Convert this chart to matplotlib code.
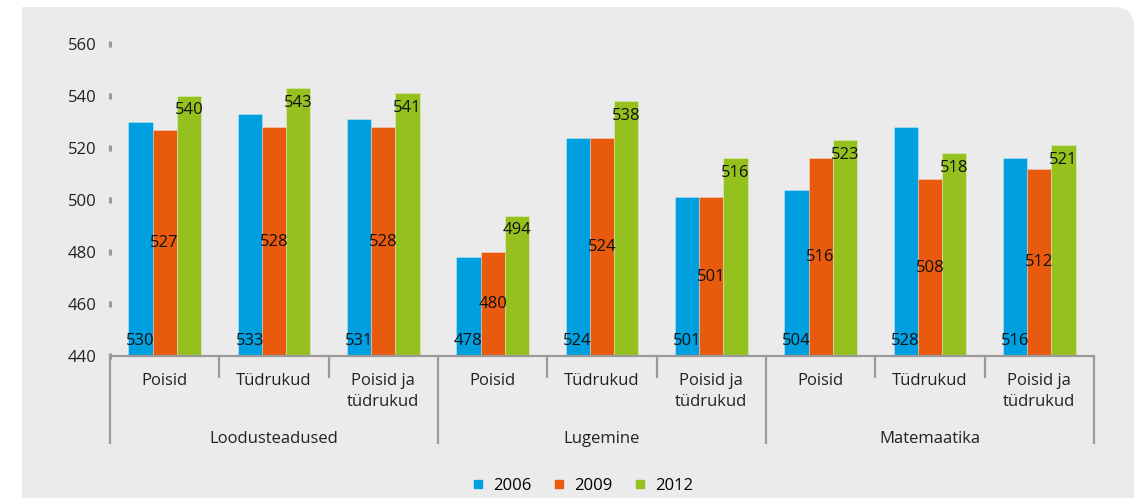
import matplotlib
matplotlib.use("Agg")
import matplotlib.pyplot as plt
import numpy as np
from matplotlib.patches import Rectangle, FancyBboxPatch
from matplotlib.lines import Line2D

plt.rcParams['font.family'] = ['Open Sans', 'DejaVu Sans']

subjects = ["Loodusteadused", "Lugemine", "Matemaatika"]
groups = ["Poisid", "Tüdrukud", "Poisid ja\ntüdrukud"]
years = ["2006", "2009", "2012"]
v2006 = [530, 533, 531, 478, 524, 501, 504, 528, 516]
v2009 = [527, 528, 528, 480, 524, 501, 516, 508, 512]
v2012 = [540, 543, 541, 494, 538, 516, 523, 518, 521]
colors = ["#009fe0", "#e85b0e", "#95c11f"]
yticks = [440, 460, 480, 500, 520, 540, 560]

W, H = 1134, 498
fig = plt.figure(figsize=(W / 100, H / 100), dpi=100)
fig.patch.set_facecolor("white")

# gray panel with rounded top-right corner
bg = "#ebebeb"
fig.patches.append(Rectangle((22, -10), W - 22 - 40, H - 7 + 10, transform=None,
                             facecolor=bg, edgecolor="none", zorder=-10))
fig.patches.append(FancyBboxPatch((W - 120, -60), 120, H - 7 + 60,
                                  boxstyle="round,pad=0,rounding_size=20",
                                  transform=None, facecolor=bg, edgecolor="none", zorder=-10))

ax = fig.add_axes([110 / W, 142 / H, 984 / W, 312 / H])
ax.set_facecolor("none")

n = len(v2006)
x = np.arange(n)
bw = 0.222
series = [v2006, v2009, v2012]
base = 440
for i, (vals, c) in enumerate(zip(series, colors)):
    heights = [v - base for v in vals]
    ax.bar(x + (i - 1) * bw, heights, bw, bottom=base, color=c,
           edgecolor=(1, 1, 1, 0.35), linewidth=0.6, zorder=2)

fs = 12
# labels: 2006 at base, 2009 at center, 2012 inside end
for xi, v in zip(x, v2006):
    ax.text(xi - bw, base + 5.9, f"{v}", ha="center", va="center", fontsize=fs, color="#111111", zorder=3)
for xi, v in zip(x, v2009):
    ax.text(xi, (base + v) / 2, f"{v}", ha="center", va="center", fontsize=fs, color="#111111", zorder=3)
for xi, v in zip(x, v2012):
    ax.text(xi + bw, v - 5.5, f"{v}", ha="center", va="center", fontsize=fs, color="#111111", zorder=3)

ax.set_xlim(-0.5, n - 0.5)
ax.set_ylim(440, 560)
ax.set_yticks(yticks)
ax.set_yticklabels([str(t) for t in yticks], fontsize=fs, color="#222222")
ax.tick_params(axis="y", length=0, pad=9.5)
ax.set_xticks([])
for s in ["left", "right", "top"]:
    ax.spines[s].set_visible(False)
ax.spines["bottom"].set_color("#9a9a9a")
ax.spines["bottom"].set_linewidth(1.6)

# small y tick marks
ax.plot([-0.5] * len(yticks), yticks, linestyle="none", marker="|", markersize=4.5,
        mew=2.2, color="#9a9a9a", clip_on=False, zorder=4)

# separators
tr = ax.get_xaxis_transform()
axh = 312.0
for b in np.arange(-0.5, n, 1.0):
    long = (round(b + 0.5) % 3 == 0)
    yb = -88 / axh if long else -22 / axh
    ax.plot([b, b], [0, yb], color="#9a9a9a", lw=1.6, transform=tr, clip_on=False,
            solid_capstyle="butt")

# category labels
for xi in x:
    ax.text(xi, -17 / axh, groups[xi % 3], ha="center", va="top", fontsize=fs,
            color="#222222", transform=tr, linespacing=1.45)
for k, s in enumerate(subjects):
    ax.text(3 * k + 1, -83 / axh, s, ha="center", va="center", fontsize=fs,
            color="#222222", transform=tr)

handles = [Line2D([], [], linestyle="none", marker="s", markersize=6, color=c) for c in colors]
fig.legend(handles, years, loc="center", bbox_to_anchor=(583 / W, 12 / H), ncol=3,
           frameon=False, fontsize=fs, handlelength=0.6, handletextpad=0.6,
           columnspacing=1.35, borderaxespad=0)

fig.savefig("out.png", dpi=100, facecolor=fig.get_facecolor())
